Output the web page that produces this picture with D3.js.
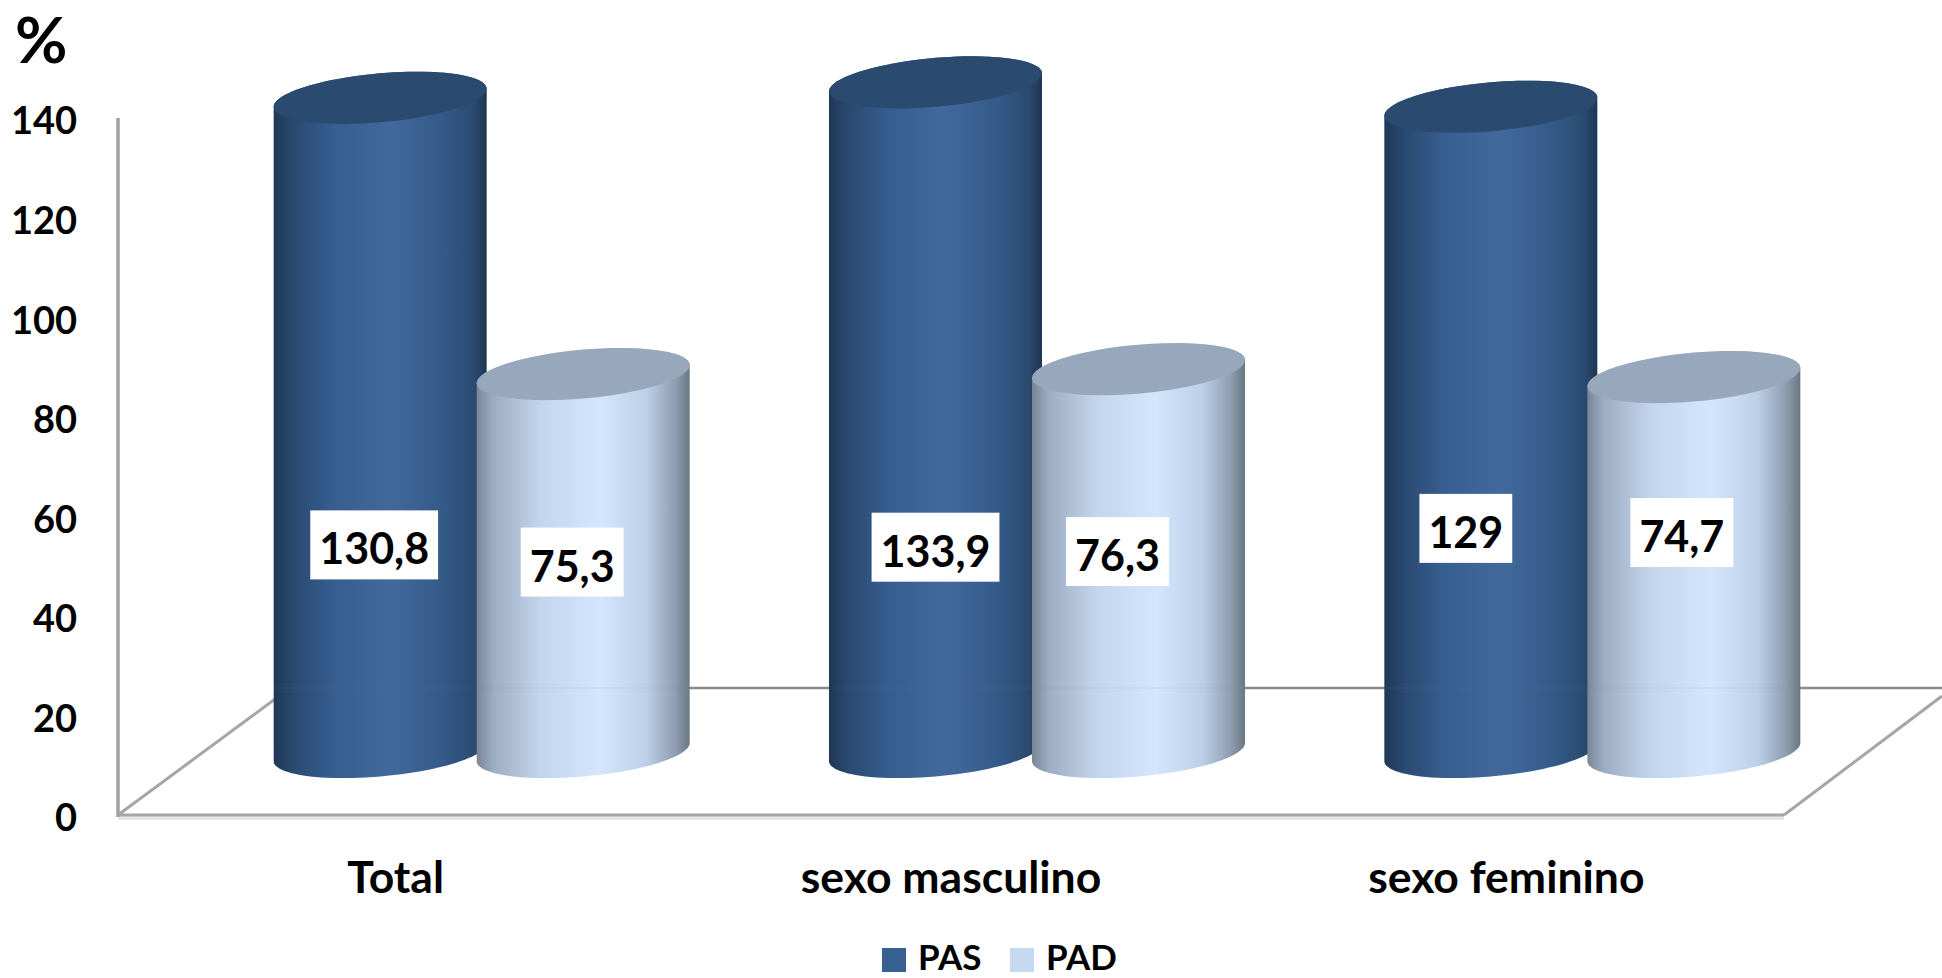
<!DOCTYPE html>
<html>
<head>
<meta charset="utf-8">
<style>
  html, body { margin: 0; background: #fff; }
  text { font-family: Lato, "Open Sans", sans-serif; font-weight: 700; fill: #000; }
</style>
<script src="https://cdn.jsdelivr.net/npm/d3@7"></script>
</head>
<body>
<div id="chart"></div>
<script>
const categories = ["Total", "sexo masculino", "sexo feminino"]
const seriesNames = ["PAS", "PAD"]
const pas = [130.8, 133.9, 129]
const pad = [75.3, 76.3, 74.7]
const valueLabels = [["130,8", "133,9", "129"], ["75,3", "76,3", "74,7"]]
const yTicks = [0, 20, 40, 60, 80, 100, 120, 140]

// hand placed data labels in the original, offset from the middle of each cylinder
const labelNudgeX = [[-6, 0, -25], [-11, -21, -12]]
const labelNudgeY = [[119, 129, 98], [-2, -10, -33]]

const svgWidth = 1942
const svgHeight = 978

// 3d look: cylinders stand on a floor that is pushed back from the front edge
const depthX = 86
const depthY = 63
const capLift = 3
const capRx = 106.5
const capRy = 24.5
const capSlope = 0.085

let svg = d3
  .select("#chart")
  .append("svg")
  .attr("width", svgWidth)
  .attr("height", svgHeight)
  .style("display", "block")

let y = d3.scaleLinear().domain([0, 140]).range([815, 118])
let x = d3.scaleBand().domain(categories).range([118, 1784])
let xInner = d3.scaleBand().domain(seriesNames).range([-203, 203])

let defs = svg.append("defs")

function addGradient(id, stops) {
  defs
    .append("linearGradient")
    .attr("id", id)
    .selectAll("stop")
    .data(stops)
    .enter()
    .append("stop")
    .attr("offset", d => d[0])
    .attr("stop-color", d => d[1])
}

addGradient("bodyPAS", [
  [0, "#1f3857"], [0.1, "#2b4a72"], [0.28, "#365e90"],
  [0.55, "#41699c"], [0.8, "#345a88"], [0.94, "#2a4a70"], [1, "#1e3552"]
])
addGradient("bodyPAD", [
  [0, "#7a8696"], [0.08, "#9dadc3"], [0.3, "#c3d5ec"],
  [0.58, "#d3e6fd"], [0.8, "#bccfe7"], [0.93, "#8f9eb1"], [1, "#6b7783"]
])

const capColors = { PAS: "#2b4a70", PAD: "#98a8bc" }
const legendColors = { PAS: "#35608f", PAD: "#c6d9f1" }

// floor and walls
let frame = svg.append("g").attr("fill", "none")

frame.append("line")
  .attr("x1", 118).attr("x2", 1784)
  .attr("y1", y(0) + 3).attr("y2", y(0) + 3)
  .attr("stroke", "#e6e6e6").attr("stroke-width", 4)

frame.append("line")
  .attr("x1", 118).attr("x2", 118)
  .attr("y1", y(140)).attr("y2", y(0) + 2)
  .attr("stroke", "#a0a0a0").attr("stroke-width", 3.5)

frame.append("line")
  .attr("x1", 117).attr("x2", 1784)
  .attr("y1", y(0)).attr("y2", y(0))
  .attr("stroke", "#a6a6a6").attr("stroke-width", 3)

frame.append("line")
  .attr("x1", 118).attr("x2", 290)
  .attr("y1", y(0)).attr("y2", 688)
  .attr("stroke", "#a6a6a6").attr("stroke-width", 3)

frame.append("line")
  .attr("x1", 1784).attr("x2", 1942)
  .attr("y1", y(0)).attr("y2", 696)
  .attr("stroke", "#a6a6a6").attr("stroke-width", 3)

frame.append("line")
  .attr("x1", 290).attr("x2", 1942)
  .attr("y1", 688).attr("y2", 688)
  .attr("stroke", "#8c8c8c").attr("stroke-width", 2.5)

// sheared ellipse, so its ends meet the straight sides of the cylinder
function capPoint(cx, cy, t) {
  let px = capRx * Math.cos(t)
  return [cx + px, cy - px * capSlope + capRy * Math.sin(t)]
}

function capArc(cx, cy, from, to) {
  return d3.range(0, 49).map(k => capPoint(cx, cy, from + (to - from) * k / 48))
}

function cylinderPath(cx, topY, bottomY) {
  let pts = capArc(cx, topY, Math.PI, 2 * Math.PI).concat(capArc(cx, bottomY, 0, Math.PI))
  return d3.line()(pts) + "Z"
}

let groups = svg
  .selectAll(".category")
  .data(categories)
  .enter()
  .append("g")
  .attr("class", "category")

const seriesValues = [pas, pad]

seriesNames.forEach((name, s) => {
  groups.each(function(cat, i) {
    let g = d3.select(this)
    let cx = x(cat) + x.bandwidth() / 2 + depthX + xInner(name) + xInner.bandwidth() / 2
    let v = seriesValues[s][i]
    let topY = y(v) - depthY - capLift
    let bottomY = y(0) - depthY

    g.append("path")
      .attr("d", cylinderPath(cx, topY, bottomY))
      .attr("fill", `url(#body${name})`)

    g.append("path")
      .attr("d", d3.line()(capArc(cx, topY, 0, 2 * Math.PI)) + "Z")
      .attr("fill", capColors[name])

    // back wall line shows faintly through the cylinder
    g.append("line")
      .attr("x1", cx - capRx).attr("x2", cx + capRx)
      .attr("y1", 688).attr("y2", 688)
      .attr("stroke", "#7f7f7f").attr("stroke-opacity", 0.07).attr("stroke-width", 2)
  })
})

// data labels go on top of every cylinder
let labels = svg.append("g")
seriesNames.forEach((name, s) => {
  categories.forEach((cat, i) => {
    let cx = x(cat) + x.bandwidth() / 2 + depthX + xInner(name) + xInner.bandwidth() / 2 + labelNudgeX[s][i]
    let cy = y(seriesValues[s][i] / 2) - depthY + labelNudgeY[s][i]
    let t = labels.append("text")
      .attr("x", cx)
      .attr("y", cy + 19)
      .attr("text-anchor", "middle")
      .style("font-size", "43px")
      .text(valueLabels[s][i])
    let w = t.node().getComputedTextLength()
    labels.insert("rect", "text")
      .attr("x", cx - w / 2 - 9)
      .attr("y", cy - 35)
      .attr("width", w + 18)
      .attr("height", 69)
      .attr("fill", "#fff")
  })
})

// axes
let yAxis = svg.append("g")
  .attr("transform", "translate(77,0)")
  .call(d3.axisLeft(y).tickValues(yTicks).tickSize(0).tickPadding(0))
yAxis.select(".domain").remove()
yAxis.selectAll("text")
  .style("font-size", "38px")
  .style("font-family", "Lato")
  .attr("dy", "0.42em")

let xAxis = svg.append("g")
  .attr("transform", "translate(0,861)")
  .call(d3.axisBottom(x).tickSize(0).tickPadding(0))
xAxis.select(".domain").remove()
xAxis.selectAll("text")
  .style("font-size", "44.5px")
  .style("font-family", "Lato")
  .attr("dy", "0.71em")

svg.append("text")
  .attr("x", 15)
  .attr("y", 63)
  .style("font-size", "64px")
  .text("%")

// legend
let legend = svg.append("g")
  .selectAll("g")
  .data(seriesNames)
  .enter()
  .append("g")
  .attr("transform", (d, i) => `translate(${882 + i * 128},948)`)

legend.append("rect")
  .attr("width", 24)
  .attr("height", 24)
  .attr("fill", d => legendColors[d])

legend.append("text")
  .attr("x", 36)
  .attr("y", 22)
  .style("font-size", "35px")
  .text(d => d)
</script>
</body>
</html>
